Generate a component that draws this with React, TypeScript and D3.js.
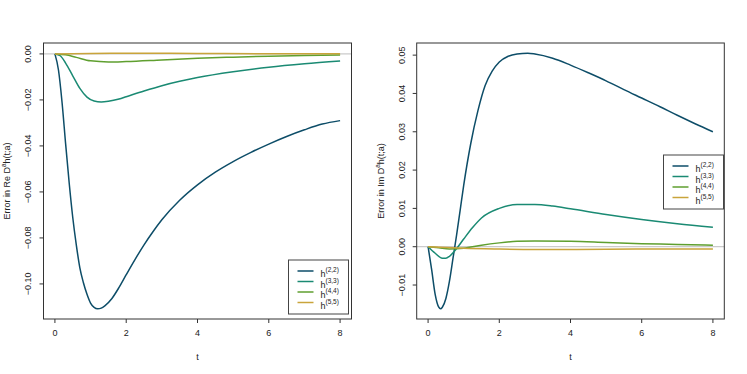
import React from "react";
import * as d3 from "d3";

const seriesNames = ["(2,2)", "(3,3)", "(4,4)", "(5,5)"];
const colors = ["#0d4d68", "#1a8a73", "#5f9f2f", "#c9a43b"];
const xTicks = [0, 2, 4, 6, 8];
const reTicks = [0, -0.02, -0.04, -0.06, -0.08, -0.1];
const imTicks = [-0.01, 0, 0.01, 0.02, 0.03, 0.04, 0.05];

// Re part
const reT22 = [0, 0.1, 0.2, 0.3, 0.4, 0.5, 0.6, 0.7, 0.8, 0.9, 1.0, 1.1, 1.2, 1.3, 1.4, 1.6, 1.8, 2.0, 2.25, 2.5, 2.75, 3.0, 3.5, 4, 4.5, 5, 5.5, 6, 6.5, 7, 7.5, 8];
const re22 = [0, -0.007, -0.021, -0.039, -0.056, -0.071, -0.083, -0.093, -0.0995, -0.1045, -0.1083, -0.1102, -0.1108, -0.1105, -0.1095, -0.1063, -0.1015, -0.096, -0.0893, -0.0830, -0.0773, -0.0721, -0.0636, -0.0569, -0.0514, -0.0468, -0.0428, -0.0392, -0.0359, -0.0330, -0.0305, -0.0290];
const reT33 = [0, 0.15, 0.3, 0.5, 0.7, 0.9, 1.1, 1.3, 1.5, 1.8, 2, 2.5, 3, 3.5, 4, 5, 6, 7, 8];
const re33 = [0, -0.0008, -0.004, -0.0095, -0.0150, -0.0188, -0.0205, -0.0209, -0.0206, -0.0196, -0.0186, -0.0161, -0.0138, -0.0119, -0.0103, -0.0078, -0.0058, -0.0043, -0.0031];
const reT44 = [0, 0.3, 0.6, 1, 1.5, 2, 3, 4, 5, 6, 7, 8];
const re44 = [0, -0.0004, -0.0015, -0.003, -0.0035, -0.0033, -0.0026, -0.0019, -0.0014, -0.001, -0.0007, -0.0005];
const reT55 = [0, 1, 2, 3, 4, 6, 8];
const re55 = [0, 0.0002, 0.0003, 0.0003, 0.0002, 0.0001, 0.0001];

// Im part
const imT22 = [0, 0.1, 0.2, 0.3, 0.35, 0.4, 0.5, 0.6, 0.7, 0.8, 0.9, 1.0, 1.2, 1.4, 1.6, 1.8, 2.0, 2.25, 2.5, 2.8, 3.0, 3.5, 4, 4.5, 5, 5.5, 6, 6.5, 7, 7.5, 8];
const im22 = [0, -0.006, -0.0125, -0.0158, -0.0162, -0.0158, -0.0135, -0.009, -0.003, 0.003, 0.0095, 0.016, 0.027, 0.0355, 0.042, 0.0458, 0.0482, 0.0497, 0.0503, 0.0505, 0.0503, 0.0492, 0.0474, 0.0454, 0.0433, 0.041, 0.0388, 0.0366, 0.0343, 0.0321, 0.03];
const imT33 = [0, 0.2, 0.4, 0.5, 0.6, 0.8, 1.0, 1.25, 1.5, 2, 2.5, 3, 3.5, 4, 5, 6, 7, 8];
const im33 = [0, -0.0017, -0.003, -0.003, -0.0025, -0.0005, 0.002, 0.005, 0.0075, 0.01, 0.011, 0.011, 0.0106, 0.0099, 0.0084, 0.0071, 0.006, 0.0051];
const imT44 = [0, 0.3, 0.6, 1, 1.5, 2, 2.5, 3, 4, 5, 6, 7, 8];
const im44 = [0, -0.0003, -0.0006, -0.0004, 0.0004, 0.001, 0.0014, 0.0015, 0.0014, 0.0011, 0.0008, 0.0006, 0.0004];
const imT55 = [0, 0.5, 1, 2, 3, 4, 6, 8];
const im55 = [0, -0.0002, -0.0004, -0.0006, -0.0007, -0.0007, -0.0006, -0.0006];

type Pt = [number, number];
const zip = (t: number[], v: number[]): Pt[] => t.map((x, i) => [x, v[i]]);

const reSeries = [zip(reT22, re22), zip(reT33, re33), zip(reT44, re44), zip(reT55, re55)];
const imSeries = [zip(imT22, im22), zip(imT33, im33), zip(imT44, im44), zip(imT55, im55)];

const FONT = "'Liberation Sans', Arial, Helvetica, sans-serif";

function padDomain(lo: number, hi: number): [number, number] {
  const p = (hi - lo) * 0.04;
  return [lo - p, hi + p];
}

function Panel(props: {
  left: number; right: number; top: number; bottom: number;
  series: Pt[][]; yTicks: number[]; part: string;
  legend: { x: number; y: number };
  yLabelX: number; tickLabelX: number;
}) {
  const { left, right, top, bottom, series, yTicks, part, legend } = props;
  const all = series.flat();
  const yExt = d3.extent(all, (d) => d[1]) as [number, number];
  const x = d3.scaleLinear().domain(padDomain(0, 8)).range([left, right]);
  const y = d3.scaleLinear().domain(padDomain(yExt[0], yExt[1])).range([bottom, top]);
  const line = d3.line<Pt>().x((d) => x(d[0])).y((d) => y(d[1])).curve(d3.curveMonotoneX);
  const fmt = d3.format(".2f");
  const midY = (top + bottom) / 2;
  const lw = 60, lh = 54;
  return (
    <g>
      <line x1={left} x2={right} y1={y(0)} y2={y(0)} stroke="#bebebe" strokeWidth={1} />
      {series.map((s, i) => (
        <path key={i} d={line(s) || ""} fill="none" stroke={colors[i]} strokeWidth={1.5} />
      ))}
      <rect x={left} y={top} width={right - left} height={bottom - top} fill="none" stroke="#333" strokeWidth={1} />
      {xTicks.map((t) => (
        <g key={t}>
          <line x1={x(t)} x2={x(t)} y1={bottom} y2={bottom + 4} stroke="#333" />
          <text x={x(t)} y={bottom + 17} fontSize={9} textAnchor="middle" fill="#222" fontFamily={FONT}>{t}</text>
        </g>
      ))}
      <text x={(left + right) / 2} y={bottom + 41} fontSize={9} textAnchor="middle" fill="#222" fontFamily={FONT}>t</text>
      {yTicks.map((t) => (
        <g key={t}>
          <line x1={left - 4} x2={left} y1={y(t)} y2={y(t)} stroke="#333" />
          <text x={props.tickLabelX} y={y(t)} fontSize={9} textAnchor="middle" fill="#222" fontFamily={FONT}
            transform={`rotate(-90, ${props.tickLabelX}, ${y(t)})`} dominantBaseline="central">
            {fmt(t).replace("-", "\u2212")}
          </text>
        </g>
      ))}
      <text x={props.yLabelX} y={midY} fontSize={9} textAnchor="middle" fill="#222" fontFamily={FONT}
        transform={`rotate(-90, ${props.yLabelX}, ${midY})`} dominantBaseline="central">
        {`Error in ${part} D`}
        <tspan fontSize={6.5} dy={-4}>a</tspan>
        <tspan dy={4}>h(t;a)</tspan>
      </text>
      <rect x={legend.x} y={legend.y} width={lw} height={lh} fill="white" stroke="#444" strokeWidth={1} />
      {seriesNames.map((n, i) => {
        const ry = legend.y + 11 + i * 10.5;
        return (
          <g key={n}>
            <line x1={legend.x + 9} x2={legend.x + 25} y1={ry} y2={ry} stroke={colors[i]} strokeWidth={1.5} />
            <text x={legend.x + 32} y={ry + 6} fontSize={9} fill="#222" fontFamily={FONT}>
              h<tspan fontSize={6.5} dy={-5}>{n}</tspan>
            </text>
          </g>
        );
      })}
    </g>
  );
}

export default function App() {
  return (
    <svg width={747} height={374} style={{ position: "absolute", left: 0, top: 0, background: "white" }}>
      <rect width={747} height={374} fill="white" />
      <Panel left={43.5} right={351.5} top={43} bottom={319} series={reSeries} yTicks={reTicks} part="Re"
        legend={{ x: 288.5, y: 260 }} yLabelX={7} tickLabelX={28.5} />
      <Panel left={416.7} right={724.3} top={43} bottom={319} series={imSeries} yTicks={imTicks} part="Im"
        legend={{ x: 663.5, y: 155 }} yLabelX={380.5} tickLabelX={402} />
    </svg>
  );
}
